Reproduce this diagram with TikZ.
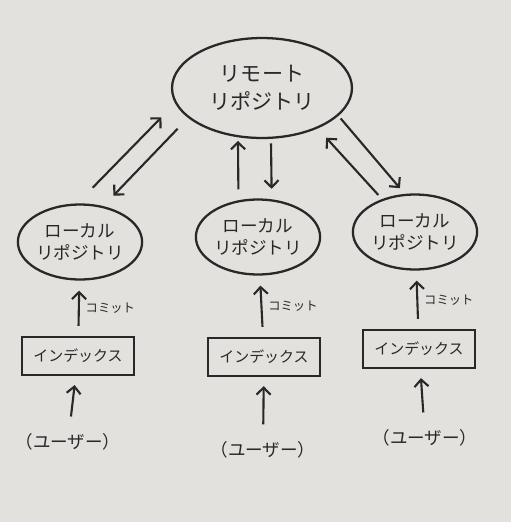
\documentclass[tikz,border=0pt]{standalone}
\usepackage{fontspec}
\newfontfamily\jp{Noto Sans CJK JP}
\usetikzlibrary{shapes.geometric,arrows.meta}
\definecolor{ink}{RGB}{40,40,40}
\definecolor{paper}{RGB}{227,225,221}

\begin{document}
\begin{tikzpicture}[x=0.02cm,y=-0.02cm,
    repo/.style={ellipse,draw=ink,line width=1.3pt,inner sep=0pt,align=center,text=ink,
        font=\jp\fontsize{10}{13}\selectfont},
    idxbox/.style={rectangle,draw=ink,line width=1.3pt,minimum width=2.25cm,minimum height=0.76cm,
        text=ink,font=\jp\fontsize{8.5}{10}\selectfont},
    user/.style={text=ink,font=\jp\fontsize{10}{12}\selectfont},
    lbl/.style={text=ink,font=\jp\fontsize{7}{8}\selectfont},
    arr/.style={-{Straight Barb[length=4pt,width=8pt]},draw=ink,line width=1.2pt}]

        \fill[paper] (0,0) rectangle (511,522);
        \useasboundingbox (0,0) rectangle (511,522);

        \node[repo,minimum width=3.6cm,minimum height=2cm,font=\jp\fontsize{12}{16}\selectfont]
            (remote) at (262,88) {リモート\\リポジトリ};

        \foreach \n/\x/\y/\ix/\iy/\ux/\uy in {A/80/242/78/356/68/442,
                B/258/237/264/357/263/450, C/415/232/419/349/425/438}{
            \node[repo,minimum width=2.48cm,minimum height=1.5cm] (local\n) at (\x,\y) {ローカル\\リポジトリ};
            \node[idxbox] (idx\n) at (\ix,\iy) {インデックス};
            \node[user] (user\n) at (\ux,\uy) {（ユーザー）};
            \draw[arr,shorten <=0.2cm,shorten >=0.2cm] (idx\n) -- node[lbl,right=0pt]{コミット} (local\n);
            \draw[arr,shorten <=0.22cm,shorten >=0.18cm] (user\n) -- (idx\n);
        }

        % push / pull
        \draw[arr,shorten <=0.44cm,shorten >=0.39cm] (localA.94) -- (remote.190.6);
        \draw[arr,shorten <=0.3cm,shorten >=0.29cm] (remote.202) -- (localA.57);
        \draw[arr,shorten <=0.22cm,shorten >=0.07cm] (localB.118) -- (remote.244.5);
        \draw[arr,shorten <=0.09cm,shorten >=0.21cm] (remote.280.3) -- (localB.70.5);
        \draw[arr,shorten <=0.11cm,shorten >=0.25cm] (localC.135) -- (remote.324);
        \draw[arr,shorten <=0.07cm,shorten >=0.15cm] (remote.340) -- (localC.105);

\end{tikzpicture}
\end{document}
